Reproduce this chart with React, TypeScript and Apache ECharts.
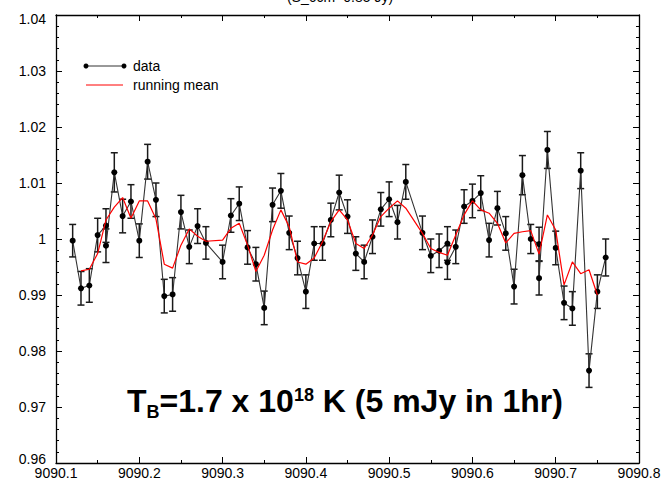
import React, { useEffect, useRef } from 'react';
import * as echarts from 'echarts';

// Observation time (days) of each data point
const time = [
  9090.12, 9090.13, 9090.14, 9090.15, 9090.16, 9090.16, 9090.17, 9090.18, 9090.19, 9090.20,
  9090.21, 9090.22, 9090.23, 9090.24, 9090.25, 9090.26, 9090.27, 9090.28, 9090.30, 9090.31,
  9090.32, 9090.33, 9090.34, 9090.35, 9090.36, 9090.37, 9090.38, 9090.39, 9090.40, 9090.41,
  9090.42, 9090.43, 9090.44, 9090.45, 9090.46, 9090.47, 9090.48, 9090.49, 9090.50, 9090.51,
  9090.52, 9090.54, 9090.55, 9090.56, 9090.57, 9090.57, 9090.58, 9090.59, 9090.60, 9090.61,
  9090.62, 9090.63, 9090.64, 9090.65, 9090.66, 9090.67, 9090.68, 9090.68, 9090.69, 9090.70,
  9090.71, 9090.72, 9090.73, 9090.74, 9090.75, 9090.76,
];
// Normalised flux
const flux = [
  0.9997, 0.9912, 0.9917, 1.0007, 1.0024, 0.9988, 1.0119, 1.0041, 1.0067, 0.9997,
  1.0138, 1.0070, 0.9898, 0.9901, 1.0048, 0.9986, 1.0023, 0.9993, 0.9959, 1.0042,
  1.0063, 0.9985, 0.9955, 0.9877, 1.0061, 1.0086, 1.0011, 0.9966, 0.9906, 0.9992,
  0.9992, 1.0034, 1.0083, 1.0040, 0.9974, 0.9959, 1.0004, 1.0053, 1.0071, 1.0030,
  1.0102, 1.0011, 0.9970, 0.9979, 0.9992, 0.9958, 0.9986, 1.0058, 1.0068, 1.0082,
  0.9998, 1.0055, 1.0010, 0.9915, 1.0114, 1.0000, 0.9991, 0.9930, 1.0159, 0.9984,
  0.9886, 0.9876, 1.0122, 0.9765, 0.9906, 0.9967,
];
// 1-sigma error of each point
const fluxErr = [
  0.0029, 0.0030, 0.0030, 0.0030, 0.0030, 0.0030, 0.0035, 0.0030, 0.0030, 0.0030,
  0.0031, 0.0030, 0.0030, 0.0030, 0.0030, 0.0030, 0.0031, 0.0029, 0.0030, 0.0030,
  0.0030, 0.0030, 0.0030, 0.0030, 0.0030, 0.0031, 0.0030, 0.0030, 0.0030, 0.0030,
  0.0030, 0.0030, 0.0031, 0.0030, 0.0030, 0.0030, 0.0030, 0.0030, 0.0031, 0.0030,
  0.0031, 0.0030, 0.0030, 0.0030, 0.0030, 0.0030, 0.0030, 0.0030, 0.0030, 0.0031,
  0.0030, 0.0030, 0.0030, 0.0031, 0.0035, 0.0026, 0.0030, 0.0030, 0.0033, 0.0030,
  0.0030, 0.0030, 0.0032, 0.0030, 0.0030, 0.0033,
];
// Running mean
const meanTime = [
  9090.13, 9090.14, 9090.15, 9090.16, 9090.17, 9090.18, 9090.19, 9090.20, 9090.21, 9090.22,
  9090.23, 9090.24, 9090.25, 9090.26, 9090.27, 9090.28, 9090.30, 9090.31, 9090.32, 9090.33,
  9090.34, 9090.35, 9090.36, 9090.37, 9090.38, 9090.39, 9090.40, 9090.41, 9090.42, 9090.43,
  9090.44, 9090.45, 9090.46, 9090.47, 9090.48, 9090.49, 9090.50, 9090.51, 9090.52, 9090.54,
  9090.55, 9090.56, 9090.57, 9090.58, 9090.59, 9090.60, 9090.61, 9090.62, 9090.63, 9090.64,
  9090.65, 9090.66, 9090.67, 9090.68, 9090.69, 9090.70, 9090.71, 9090.72, 9090.73, 9090.74,
  9090.75,
];
const meanFlux = [
  0.9943, 0.9946, 0.9974, 1.0034, 1.0057, 1.0074, 1.0037, 1.0068, 1.0068, 1.0036,
  0.9955, 0.9948, 0.9989, 1.0018, 1.0005, 0.9996, 0.9998, 1.0019, 1.0028, 0.9989,
  0.9942, 0.9971, 1.0016, 1.0052, 1.0022, 0.9959, 0.9955, 0.9966, 0.9995, 1.0031,
  1.0052, 1.0034, 0.9992, 0.9983, 1.0007, 1.0040, 1.0055, 1.0068, 1.0055, 1.0010,
  0.9983, 0.9976, 0.9971, 1.0007, 1.0043, 1.0068, 1.0052, 1.0046, 1.0028, 0.9993,
  1.0010, 1.0013, 1.0015, 0.9973, 1.0043, 1.0016, 0.9918, 0.9959, 0.9938, 0.9945,
  0.9900,
];

const titleText = '(S_6cm=0.85 Jy)';
const legendLabels = ['data', 'running mean'];

export default function App() {
  const ref = useRef<HTMLDivElement>(null);
  useEffect(() => {
    const chart = echarts.init(ref.current!, null, { renderer: 'svg' });
    const font = '"Liberation Sans", Arial, Helvetica, sans-serif';
    const dataPts = time.map((t, i) => [t, flux[i]]);
    const errPts = time.map((t, i) => [t, flux[i] - fluxErr[i], flux[i] + fluxErr[i]]);
    const meanPts = meanTime.map((t, i) => [t, meanFlux[i]]);

    const axisLine = { show: true, onZero: false, lineStyle: { color: '#000', width: 1.3 } };
    const axisTick = { show: true, inside: true, length: 6, lineStyle: { color: '#000', width: 1 } };
    const xBase = {
      type: 'value', min: 9090.1, max: 9090.8, interval: 0.1,
      axisLine, axisTick,
      minorTick: { show: true, splitNumber: 2, length: 3, lineStyle: { color: '#000', width: 1 } },
      splitLine: { show: false },
    };
    const yBase = {
      type: 'value', min: 0.96, max: 1.04, interval: 0.01,
      axisLine, axisTick,
      minorTick: { show: true, splitNumber: 5, length: 3, lineStyle: { color: '#000', width: 1 } },
      splitLine: { show: false },
    };

    const option: any = {
      animation: false,
      backgroundColor: '#fff',
      grid: { left: 56, right: 25, top: 15, bottom: 18 },
      xAxis: [
        {
          ...xBase, position: 'bottom',
          axisLabel: {
            color: '#000', fontSize: 14, fontFamily: font, margin: 3,
            formatter: (v: number) => v.toFixed(1), showMinLabel: true, showMaxLabel: true,
          },
        },
        { ...xBase, position: 'top', axisLabel: { show: false } },
      ],
      yAxis: [
        {
          ...yBase, position: 'left',
          axisLabel: {
            color: '#000', fontSize: 14, fontFamily: font, margin: 10,
            formatter: (v: number) => {
              const s = String(parseFloat(v.toFixed(2)));
              if (Math.abs(v - 0.96) < 1e-6) return `{low|${s}}`;
              if (Math.abs(v - 1.04) < 1e-6) return `{high|${s}}`;
              return s;
            },
            rich: {
              low: { fontSize: 14, fontFamily: font, color: '#000', padding: [0, 0, 9, 0] },
              high: { fontSize: 14, fontFamily: font, color: '#000', padding: [8, 0, 0, 0] },
            },
            showMinLabel: true, showMaxLabel: true,
          },
        },
        { ...yBase, position: 'right', axisLabel: { show: false } },
      ],
      series: [
        {
          type: 'custom',
          name: 'error',
          data: errPts,
          encode: { x: 0, y: [1, 2] },
          z: 2,
          renderItem: (params: any, api: any) => {
            const x = api.value(0);
            const lo = api.coord([x, api.value(1)]);
            const hi = api.coord([x, api.value(2)]);
            const w = 3.5;
            const style = { stroke: '#1a1a1a', lineWidth: 1.5, fill: 'none' };
            return {
              type: 'group',
              children: [
                { type: 'line', shape: { x1: lo[0], y1: lo[1], x2: hi[0], y2: hi[1] }, style },
                { type: 'line', shape: { x1: lo[0] - w, y1: lo[1], x2: lo[0] + w, y2: lo[1] }, style },
                { type: 'line', shape: { x1: hi[0] - w, y1: hi[1], x2: hi[0] + w, y2: hi[1] }, style },
              ],
            };
          },
        },
        {
          type: 'line',
          name: legendLabels[0],
          data: dataPts,
          symbol: 'circle',
          symbolSize: 6,
          itemStyle: { color: '#000' },
          lineStyle: { color: '#333', width: 1.1 },
          z: 3,
        },
        {
          type: 'line',
          name: legendLabels[1],
          data: meanPts,
          symbol: 'none',
          lineStyle: { color: '#ff0000', width: 1.2 },
          z: 4,
        },
      ],
      graphic: [
        {
          type: 'text', x: 340, y: -3, z: 10,
          style: { text: titleText, font: `14px ${font}`, fill: '#000', align: 'center', verticalAlign: 'middle' },
        },
        { type: 'line', shape: { x1: 86, y1: 66, x2: 124, y2: 66 }, style: { stroke: '#333', lineWidth: 1 }, z: 10 },
        { type: 'circle', shape: { cx: 86, cy: 66, r: 2.5 }, style: { fill: '#000' }, z: 10 },
        { type: 'circle', shape: { cx: 124, cy: 66, r: 2.5 }, style: { fill: '#000' }, z: 10 },
        {
          type: 'text', x: 133, y: 66, z: 10,
          style: { text: legendLabels[0], font: `14px ${font}`, fill: '#000', verticalAlign: 'middle' },
        },
        { type: 'line', shape: { x1: 86, y1: 85, x2: 123, y2: 85 }, style: { stroke: '#ff0000', lineWidth: 1 }, z: 10 },
        {
          type: 'text', x: 133, y: 85, z: 10,
          style: { text: legendLabels[1], font: `14px ${font}`, fill: '#000', verticalAlign: 'middle' },
        },
        {
          type: 'text', x: 127, y: 380, z: 10,
          style: {
            text: '{m|T}{s|B}{m|=1.7 x 10}{p|18}{m| K (5 mJy in 1hr)}',
            verticalAlign: 'top',
            rich: {
              m: { fontSize: 32, fontWeight: 'bold', fontFamily: font, lineHeight: 41, fill: '#000', color: '#000' },
              s: { fontSize: 18, fontWeight: 'bold', fontFamily: font, lineHeight: 18, verticalAlign: 'bottom', fill: '#000', color: '#000' },
              p: { fontSize: 18, fontWeight: 'bold', fontFamily: font, lineHeight: 18, verticalAlign: 'top', padding: [6, 0, 0, 0], fill: '#000', color: '#000' },
            },
          },
        },
      ],
    };
    chart.setOption(option);
    return () => chart.dispose();
  }, []);

  return (
    <div
      ref={ref}
      style={{ position: 'fixed', left: 0, top: 0, width: 664, height: 481, background: '#fff' }}
    />
  );
}
